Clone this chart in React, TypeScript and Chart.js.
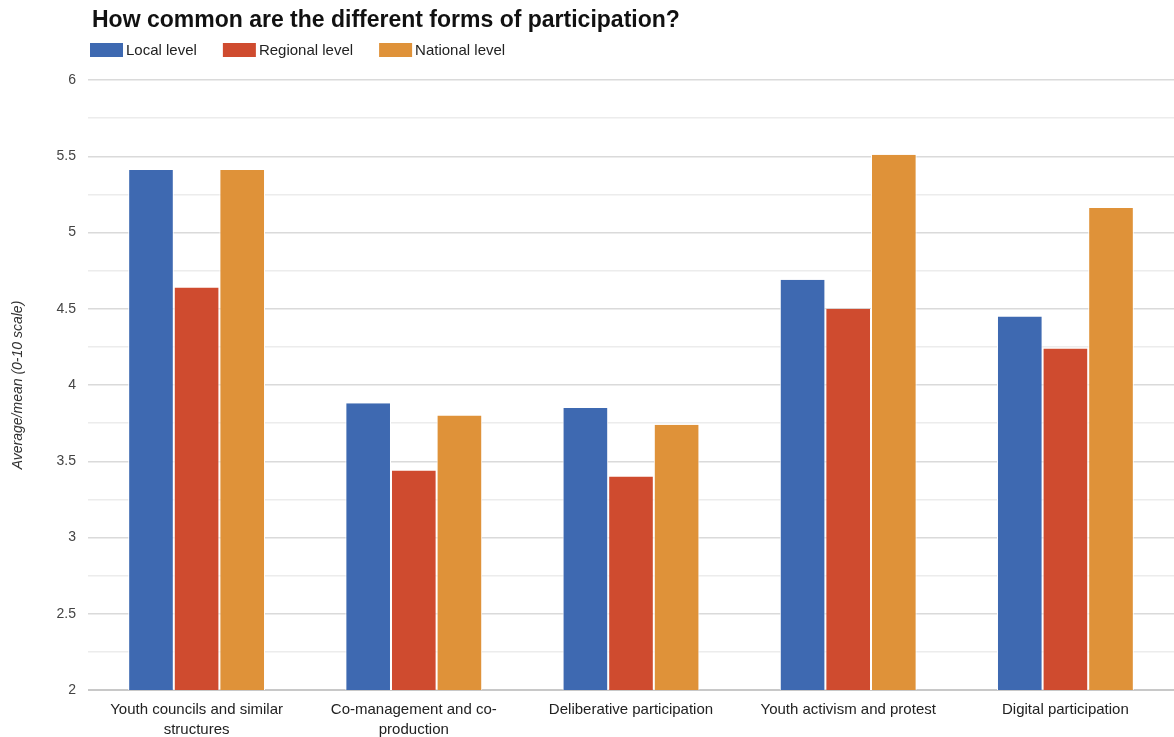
import React, { useEffect, useRef } from "react";
import { Chart, registerables } from "chart.js";

Chart.register(...registerables);

const chartTitle = "How common are the different forms of participation?";
const yAxisTitle = "Average/mean (0-10 scale)";
const categories: string[][] = [
  ["Youth councils and similar", "structures"],
  ["Co-management and co-", "production"],
  ["Deliberative participation"],
  ["Youth activism and protest"],
  ["Digital participation"],
];
const seriesNames = ["Local level", "Regional level", "National level"];
const localLevel = [5.41, 3.88, 3.85, 4.69, 4.45];
const regionalLevel = [4.64, 3.44, 3.40, 4.50, 4.24];
const nationalLevel = [5.41, 3.80, 3.74, 5.51, 5.16];
const seriesColors = ["#3e69b1", "#cf4b2f", "#df9239"];
const yMin = 2;
const yMax = 6;
const yStep = 0.25;

const FONT = '"Liberation Sans", Arial, Helvetica, sans-serif';

const headerPlugin = {
  id: "headerPlugin",
  afterDraw(chart: any) {
    const ctx = chart.ctx;
    ctx.save();
    ctx.fillStyle = "#111";
    ctx.textBaseline = "middle";
    ctx.textAlign = "left";
    ctx.font = `bold 23px ${FONT}`;
    ctx.fillText(chartTitle, 92, 21);
    ctx.font = `15px ${FONT}`;
    let x = 90;
    chart.data.datasets.forEach((ds: any) => {
      ctx.fillStyle = ds.backgroundColor;
      ctx.fillRect(x, 43, 33, 14);
      ctx.fillStyle = "#222";
      ctx.fillText(ds.label, x + 36, 51);
      x += 36 + ctx.measureText(ds.label).width + 26;
    });
    ctx.restore();
  },
};

export default function App() {
  const ref = useRef<HTMLCanvasElement>(null);
  useEffect(() => {
    document.body.style.margin = "0";
    const values = [localLevel, regionalLevel, nationalLevel];
    const chart = new Chart(ref.current!, {
      type: "bar",
      data: {
        labels: categories,
        datasets: seriesNames.map((name, i) => ({
          label: name,
          data: values[i],
          backgroundColor: seriesColors[i],
          borderColor: "#ffffff",
          borderWidth: { left: 1, right: 1, top: 0, bottom: 0 },
          borderSkipped: false,
          barPercentage: 1,
          categoryPercentage: 0.63,
        })),
      },
      options: {
        animation: false,
        responsive: false,
        maintainAspectRatio: false,
        font: { family: FONT },
        layout: { padding: { top: 80, left: 0, right: 0, bottom: 0 } },
        plugins: {
          legend: { display: false },
          title: { display: false },
          tooltip: { enabled: false },
        },
        scales: {
          x: {
            grid: { display: false, drawTicks: false },
            border: { display: false },
            ticks: {
              color: "#222",
              font: { family: FONT, size: 15, lineHeight: 1.33 },
              padding: 10,
              maxRotation: 0,
              autoSkip: false,
            },
            afterFit(scale: any) {
              scale.height = 47;
            },
          },
          y: {
            min: yMin,
            max: yMax,
            grid: {
              drawTicks: false,
              color: (c: any) =>
                c.tick && c.tick.value === yMin
                  ? "#c8c8c8"
                  : c.tick && Math.abs((c.tick.value * 2) % 1) < 1e-6
                  ? "#dadada"
                  : "#ececec",
              lineWidth: (c: any) => (c.tick && c.tick.value === yMin ? 2 : 1.5),
            },
            border: { display: false },
            ticks: {
              stepSize: yStep,
              color: "#444",
              padding: 12,
              font: { family: FONT, size: 14 },
              autoSkip: false,
              callback: (v: any) =>
                Math.abs((Number(v) * 2) % 1) < 1e-6 ? String(Number(v)) : "",
            },
            title: {
              display: true,
              text: yAxisTitle,
              color: "#333",
              font: { family: FONT, size: 14, style: "italic" },
              padding: { top: 10, bottom: 0 },
            },
            afterFit(scale: any) {
              scale.width = 88;
            },
          },
        },
      },
      plugins: [headerPlugin],
    });
    return () => chart.destroy();
  }, []);
  return (
    <div style={{ position: "absolute", left: 0, top: 0, width: 1174, height: 737 }}>
      <canvas ref={ref} width={1174} height={737} style={{ width: 1174, height: 737 }} />
    </div>
  );
}
